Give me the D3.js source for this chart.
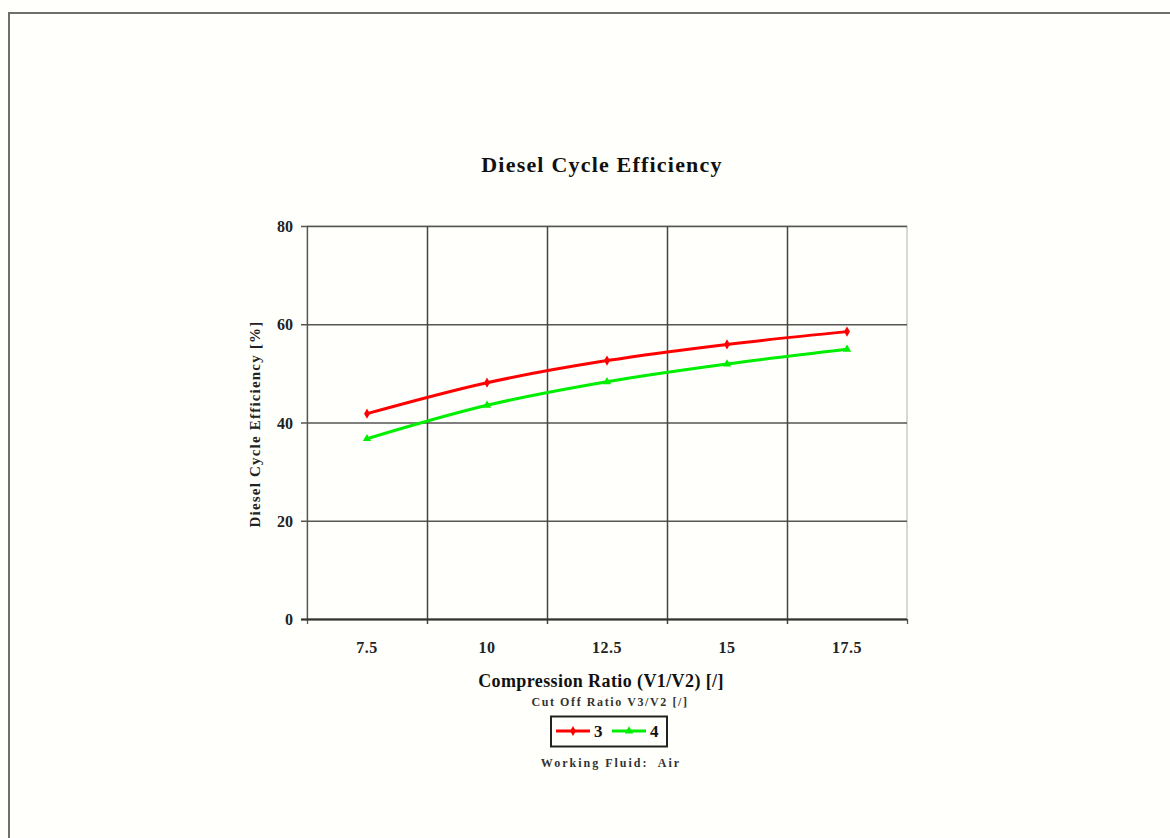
<!DOCTYPE html>
<html><head><meta charset="utf-8">
<script src="https://cdn.jsdelivr.net/npm/d3@7"></script>
<style>
html,body{margin:0;padding:0;background:#fffffb;}
svg{display:block;}
</style></head>
<body>
<svg id="chart" width="1170" height="838"></svg>
<script>
const categories = ["7.5", "10", "12.5", "15", "17.5"];
const series3 = [41.8, 48.1, 52.6, 55.9, 58.5];
const series4 = [36.7, 43.5, 48.3, 51.9, 54.9];
const seriesNames = ["3", "4"];
const seriesColors = ["#ff0000", "#00ee00"];
const yTicks = [0, 20, 40, 60, 80];

const svg = d3.select("#chart");
const font = "'Liberation Serif', 'Times New Roman', serif";

svg.append("rect").attr("x", 0).attr("y", 0).attr("width", 1170).attr("height", 838).attr("fill", "#fffffb");
// outer frame
svg.append("path").attr("d", "M9,838 V13 H1170").attr("fill", "none").attr("stroke", "#6e6e6e").attr("stroke-width", 2);

const L = 307, R = 907, T = 226, B = 619;
const x = d3.scaleBand().domain(categories).range([L, R]).padding(0);
const y = d3.scaleLinear().domain([0, 80]).range([B, T]);

svg.append("rect").attr("x", L).attr("y", T).attr("width", R - L).attr("height", B - T)
  .attr("fill", "#fffffb").attr("stroke", "#b0b0b0").attr("stroke-width", 1);

// horizontal gridlines
svg.append("g").selectAll("line").data(yTicks).join("line")
  .attr("x1", L - 6).attr("x2", R).attr("y1", d => y(d) + 0.5).attr("y2", d => y(d) + 0.5)
  .attr("stroke", "#555").attr("stroke-width", 1.3);

// vertical gridlines between categories
const bounds = categories.slice(1).map(c => x(c));
svg.append("g").selectAll("line").data(bounds).join("line")
  .attr("x1", d => d + 0.5).attr("x2", d => d + 0.5).attr("y1", T).attr("y2", B + 5)
  .attr("stroke", "#444").attr("stroke-width", 1.5);

// y axis line
svg.append("line").attr("x1", L + 0.5).attr("x2", L + 0.5).attr("y1", T).attr("y2", B + 5).attr("stroke", "#555").attr("stroke-width", 1.3);
svg.append("line").attr("x1", R + 0.5).attr("x2", R + 0.5).attr("y1", B).attr("y2", B + 5).attr("stroke", "#555").attr("stroke-width", 1.3);
// x axis line
svg.append("line").attr("x1", L - 6).attr("x2", R).attr("y1", B + 0.5).attr("y2", B + 0.5).attr("stroke", "#333").attr("stroke-width", 2);

// y tick labels
svg.append("g").selectAll("text").data(yTicks).join("text")
  .attr("x", L - 14).attr("y", d => y(d) + 6).attr("text-anchor", "end")
  .attr("font-family", font).attr("font-weight", "bold").attr("font-size", 16).attr("fill", "#222")
  .text(d => d);

// x tick labels
svg.append("g").selectAll("text").data(categories).join("text")
  .attr("x", d => x(d) + x.bandwidth() / 2).attr("y", 653).attr("text-anchor", "middle")
  .attr("font-family", font).attr("font-weight", "bold").attr("font-size", 16).attr("fill", "#222")
  .attr("letter-spacing", 0.5)
  .text(d => d);

// titles
svg.append("text").attr("x", 602).attr("y", 172).attr("text-anchor", "middle")
  .attr("font-family", font).attr("font-weight", "bold").attr("font-size", 22).attr("fill", "#111")
  .attr("letter-spacing", 1.2)
  .text("Diesel Cycle Efficiency");
svg.append("text").attr("x", 601).attr("y", 687).attr("text-anchor", "middle")
  .attr("font-family", font).attr("font-weight", "bold").attr("font-size", 18).attr("fill", "#111")
  .attr("letter-spacing", 0.4)
  .text("Compression Ratio (V1/V2) [/]");
svg.append("text").attr("transform", "translate(260,424) rotate(-90)").attr("text-anchor", "middle")
  .attr("font-family", font).attr("font-weight", "bold").attr("font-size", 15).attr("fill", "#222")
  .attr("letter-spacing", 1.2)
  .text("Diesel Cycle Efficiency [%]");
svg.append("text").attr("x", 610).attr("y", 706).attr("text-anchor", "middle")
  .attr("font-family", font).attr("font-weight", "bold").attr("font-size", 12).attr("fill", "#333")
  .attr("letter-spacing", 1.6)
  .text("Cut Off Ratio V3/V2 [/]");
svg.append("text").attr("x", 611).attr("y", 767).attr("text-anchor", "middle")
  .attr("font-family", font).attr("font-weight", "bold").attr("font-size", 12).attr("fill", "#333")
  .attr("letter-spacing", 2).attr("xml:space", "preserve").style("white-space", "pre")
  .text("Working Fluid:  Air");

// series
const allSeries = [series3, series4];
const line = d3.line().x((d, i) => x(categories[i]) + x.bandwidth() / 2).y(d => y(d)).curve(d3.curveCatmullRom.alpha(0.5));
const markerShapes = [d3.symbolDiamond, d3.symbolTriangle];
allSeries.forEach((s, k) => {
  svg.append("path").attr("d", line(s)).attr("fill", "none").attr("stroke", seriesColors[k]).attr("stroke-width", 3);
  svg.append("g").selectAll("path").data(s).join("path")
    .attr("transform", (d, i) => `translate(${x(categories[i]) + x.bandwidth() / 2},${y(d)})`)
    .attr("d", d3.symbol().type(markerShapes[k]).size(30))
    .attr("fill", seriesColors[k]);
});

// legend
const lg = svg.append("g");
lg.append("rect").attr("x", 551).attr("y", 716.5).attr("width", 116).attr("height", 30)
  .attr("fill", "#fffffb").attr("stroke", "#222").attr("stroke-width", 2);
const legendX = [556, 612];
seriesNames.forEach((n, k) => {
  lg.append("line").attr("x1", legendX[k]).attr("x2", legendX[k] + 34).attr("y1", 731).attr("y2", 731)
    .attr("stroke", seriesColors[k]).attr("stroke-width", 3);
  lg.append("path").attr("transform", `translate(${legendX[k] + 17},731)`)
    .attr("d", d3.symbol().type(markerShapes[k]).size(30)).attr("fill", seriesColors[k]);
  lg.append("text").attr("x", legendX[k] + 38).attr("y", 737)
    .attr("font-family", font).attr("font-weight", "bold").attr("font-size", 17).attr("fill", "#111").text(n);
});
</script>
</body></html>
